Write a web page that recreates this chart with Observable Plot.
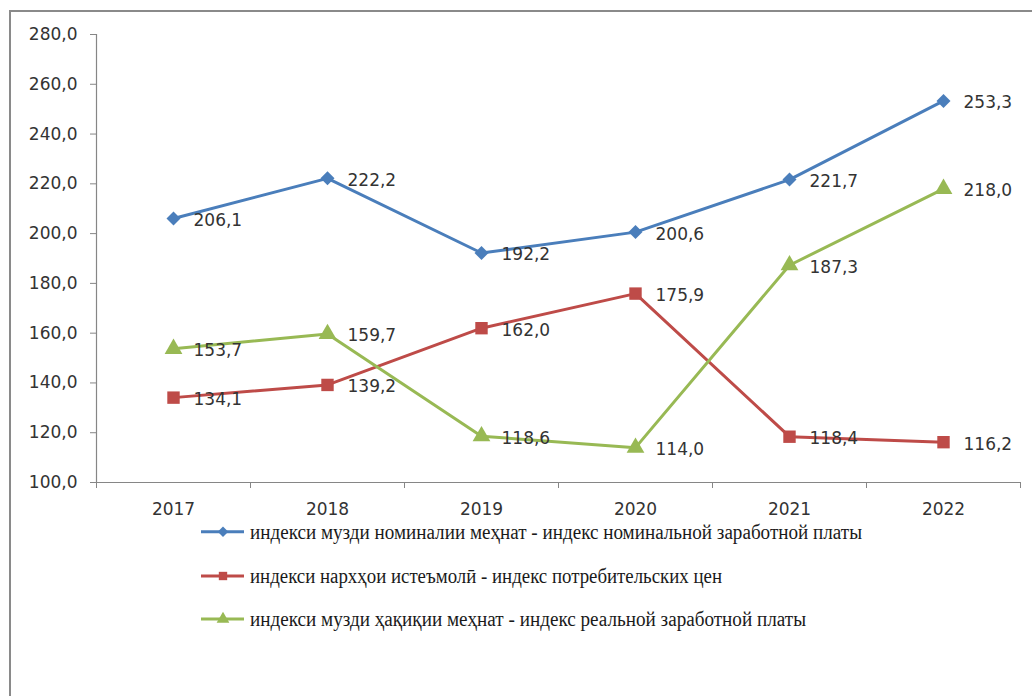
<!DOCTYPE html>
<html><head><meta charset="utf-8">
<script src="https://cdn.jsdelivr.net/npm/d3@7"></script>
<script src="https://cdn.jsdelivr.net/npm/@observablehq/plot@0.6"></script>
<style>
html,body{margin:0;padding:0;background:#fff;width:1032px;height:696px;overflow:hidden;}
#frame{position:absolute;left:9px;top:10px;width:1100px;height:800px;border-top:2px solid #8a8a8a;border-left:2px solid #8a8a8a;}
#chart{position:absolute;left:0;top:0;}
#chart svg{display:block;}
</style></head><body>
<div id="frame"></div>
<div id="chart"></div>
<script>
const years = ["2017", "2018", "2019", "2020", "2021", "2022"];
const seriesNames = [
  "индекси музди номиналии меҳнат - индекс номинальной заработной платы",
  "индекси нархҳои истеъмолӣ - индекс потребительских цен",
  "индекси музди ҳақиқии меҳнат - индекс реальной заработной платы"
];
const nominalWageIndex = [206.1, 222.2, 192.2, 200.6, 221.7, 253.3];
const consumerPriceIndex = [134.1, 139.2, 162.0, 175.9, 118.4, 116.2];
const realWageIndex = [153.7, 159.7, 118.6, 114.0, 187.3, 218.0];
const yTicks = [100, 120, 140, 160, 180, 200, 220, 240, 260, 280];
const colors = ["#4A7EBB", "#BE4B48", "#98B954"];
const symbols = ["diamond2", "square", "triangle"];
const symbolR = [6.3, 7, 6.6];
const legendWidths = [612, 472, 556];

const seriesValues = [nominalWageIndex, consumerPriceIndex, realWageIndex];
const data = seriesValues.flatMap((vals, s) =>
  vals.map((v, i) => ({year: years[i], value: v, series: seriesNames[s]})));
const fmt = v => v.toFixed(1).replace(".", ",");
const font = "DejaVu Sans";
const fs = 17;
const textColor = "#333";
const axisColor = "#868686";

const plot = Plot.plot({
  width: 1032,
  height: 520,
  marginLeft: 96,
  marginRight: 12,
  marginTop: 34,
  marginBottom: 38,
  style: {fontFamily: font, fontSize: fs + "px", color: textColor, background: "transparent"},
  x: {type: "band", domain: years, padding: 0, label: null},
  y: {domain: [100, 280], label: null},
  color: {domain: seriesNames, range: colors},
  symbol: {domain: seriesNames, range: symbols},
  marks: [
    Plot.axisY({ticks: yTicks, tickFormat: fmt, tickSize: 6, tickPadding: 13, stroke: axisColor, fill: textColor, fontSize: fs, label: null}),
    Plot.axisX({tickSize: 0, tickPadding: 20, fill: textColor, fontSize: fs, label: null}),
    Plot.ruleY([100], {stroke: axisColor, strokeWidth: 1.2}),
    Plot.ruleX([years[0]], {dx: -77, y1: 100, y2: 280, stroke: axisColor, strokeWidth: 1.2}),
    Plot.ruleX(years, {dx: -77, y1: 100, y2: 100, insetBottom: -6, stroke: axisColor}),
    Plot.ruleX([years[years.length - 1]], {dx: 77, y1: 100, y2: 100, insetBottom: -6, stroke: axisColor}),
    Plot.line(data, {x: "year", y: "value", z: "series", stroke: "series", strokeWidth: 3, strokeLinejoin: "round"}),
    ...seriesNames.map((name, s) =>
      Plot.dot(data, {filter: d => d.series === name, x: "year", y: "value", fill: "series", symbol: "series", r: symbolR[s], stroke: "none"})),
    Plot.text(data, {x: "year", y: "value", text: d => fmt(d.value), dx: 20, dy: 2, textAnchor: "start", fill: textColor, fontSize: fs})
  ]
});
document.getElementById("chart").appendChild(plot);

// legend below the chart
const legend = d3.create("svg")
  .attr("width", 1032)
  .attr("height", 176)
  .style("display", "block");
const rowY = [11.7, 56, 99];
seriesNames.forEach((name, s) => {
  const g = legend.append("g").attr("transform", `translate(0,${rowY[s]})`);
  g.append("line").attr("x1", 201).attr("x2", 244).attr("y1", 0).attr("y2", 0)
    .attr("stroke", colors[s]).attr("stroke-width", 3);
  const symType = [d3.symbolDiamond2, d3.symbolSquare, d3.symbolTriangle][s];
  g.append("path").attr("d", d3.symbol(symType, 70)()).attr("transform", "translate(223,0)").attr("fill", colors[s]);
  g.append("text").attr("x", 250).attr("y", 7)
    .attr("font-family", "Liberation Serif").attr("font-size", 20.5).attr("fill", "#1a1a1a")
    .attr("textLength", legendWidths[s]).attr("lengthAdjust", "spacingAndGlyphs")
    .text(name);
});
document.getElementById("chart").appendChild(legend.node());
</script>
</body></html>
